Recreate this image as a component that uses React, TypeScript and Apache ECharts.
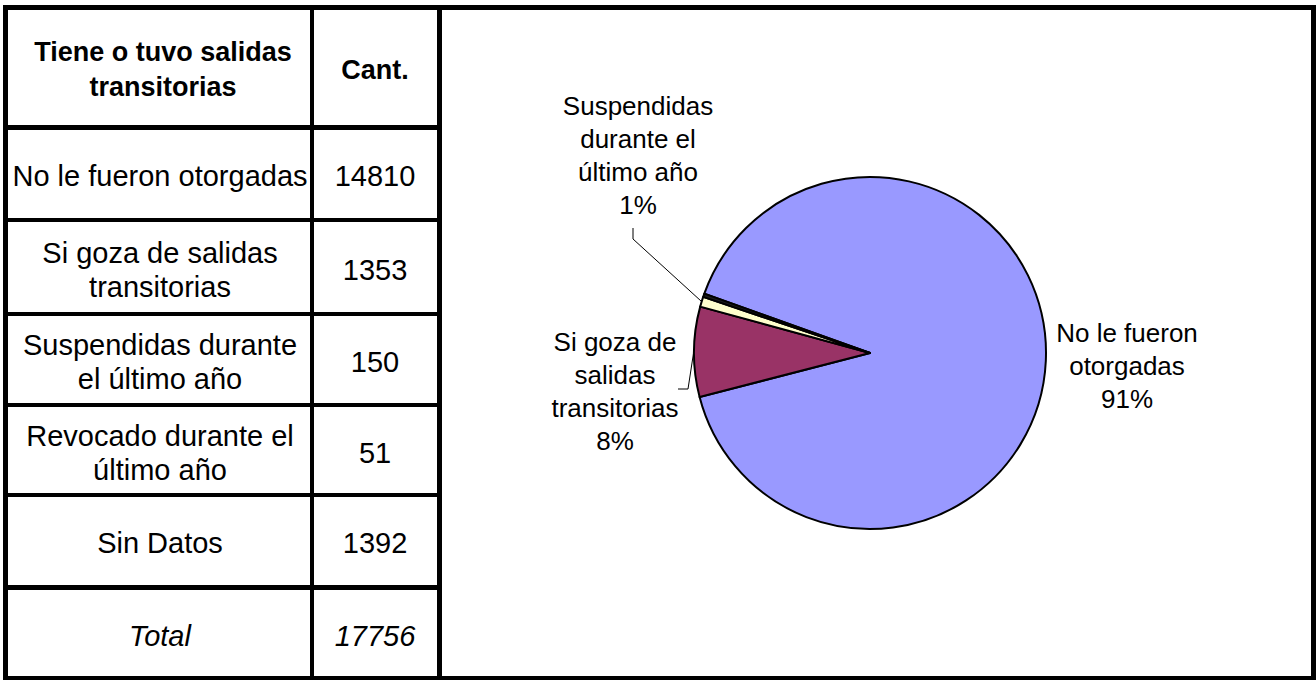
import React, { useEffect, useRef } from "react";
import * as echarts from "echarts";

// ---- data ----
const categories = [
  "No le fueron otorgadas",
  "Si goza de salidas transitorias",
  "Suspendidas durante el último año",
  "Revocado durante el último año",
  "Sin Datos",
];
const counts = [14810, 1353, 150, 51, 1392];
const tableLabels = [
  "No le fueron otorgadas",
  "Si goza de salidas\ntransitorias",
  "Suspendidas durante\nel último año",
  "Revocado durante el\núltimo año",
  "Sin Datos",
];
const headerLabels = ["Tiene o tuvo salidas\ntransitorias", "Cant."];
const totalLabel = "Total";
const pieLabels = [
  "No le fueron\notorgadas",
  "Si goza de\nsalidas\ntransitorias",
  "Suspendidas\ndurante el\núltimo año",
  "Revocado\ndurante el\núltimo año",
];
const pieCount = 4; // the pie leaves out "Sin Datos"
const sliceColors = ["#9999FF", "#993366", "#FFFFCC", "#1a1a1a"];

// ---- layout (positions only) ----
const FONT = '"Liberation Sans", Arial, sans-serif';
const col1X = 160;
const col2X = 375;
const headerY = 69;
const rowY = [176, 270, 362, 453, 543];
const totalY = 636;

export default function App() {
  const ref = useRef<HTMLDivElement>(null);

  useEffect(() => {
    if (!ref.current) return;
    const chart = echarts.init(ref.current, undefined, { renderer: "svg" });

    const total = counts.reduce((a, b) => a + b, 0);

    const rect = (x: number, y: number, w: number, h: number) => ({
      type: "rect",
      shape: { x, y, width: w, height: h },
      style: { fill: "#000" },
      silent: true,
    });
    const text = (
      t: string,
      x: number,
      y: number,
      opts: { bold?: boolean; italic?: boolean; size?: number; lh?: number } = {}
    ) => ({
      type: "text",
      x,
      y,
      silent: true,
      style: {
        text: t,
        fill: "#000",
        fontFamily: FONT,
        fontSize: opts.size ?? 29,
        fontWeight: opts.bold ? "bold" : "normal",
        fontStyle: opts.italic ? "italic" : "normal",
        lineHeight: opts.lh ?? 34,
        align: "center",
        verticalAlign: "middle",
        textAlign: "center",
        textVerticalAlign: "middle",
      },
    });

    const graphics: any[] = [
      // frame
      rect(3, 5, 1313, 5),
      rect(3, 676, 1313, 4),
      rect(3, 5, 5, 675),
      rect(1311, 5, 5, 675),
      // table verticals
      rect(310, 5, 4, 675),
      rect(437, 5, 5, 675),
      // table horizontals
      rect(3, 125, 439, 5),
      rect(3, 218, 439, 4),
      rect(3, 312, 439, 4),
      rect(3, 403, 439, 4),
      rect(3, 493, 439, 4),
      rect(3, 585, 439, 5),
      // header
      text(headerLabels[0], col1X + 3, headerY, { bold: true, size: 27, lh: 35 }),
      text(headerLabels[1], col2X, 70, { bold: true, size: 27 }),
    ];
    tableLabels.forEach((lab, i) => {
      graphics.push(text(lab, col1X, rowY[i]));
      graphics.push(text(String(counts[i]), col2X, rowY[i]));
    });
    graphics.push(text(totalLabel, col1X, totalY, { italic: true }));
    graphics.push(text(String(total), col2X, totalY, { italic: true }));

    const labelPos: Record<number, { x: number; y: number; line?: number[][] }> = {
      0: { x: 1127, y: 366 },
      1: { x: 615, y: 391, line: [[694, 350], [688, 389], [678, 389]] },
      2: { x: 638, y: 155, line: [[701, 301], [633, 239], [633, 228]] },
    };

    const pieData = categories.slice(0, pieCount).map((name, i) => ({
      name,
      value: counts[i],
      itemStyle: { color: sliceColors[i] },
      label: { show: i < 3, formatter: pieLabels[i] + "\n{d}%" },
      labelLine: { show: i === 1 || i === 2 },
    }));

    chart.setOption({
      animation: false,
      backgroundColor: "#fff",
      graphic: graphics,
      series: [
        {
          type: "pie",
          center: [870, 353],
          radius: 176,
          startAngle: 160.3,
          clockwise: true,
          percentPrecision: 0,
          avoidLabelOverlap: false,
          silent: true,
          emphasis: { disabled: true },
          itemStyle: { borderColor: "#000", borderWidth: 2 },
          label: {
            show: true,
            position: "outside",
            color: "#000",
            fontFamily: FONT,
            fontSize: 26,
            lineHeight: 33,
            align: "center",
          },
          labelLine: {
            show: true,
            lineStyle: { color: "#000", width: 1 },
          },
          labelLayout: (params: any) => {
            const p = labelPos[params.dataIndex];
            if (!p) return {};
            const r: any = { x: p.x, y: p.y, align: "center", verticalAlign: "middle", hideOverlap: false };
            if (p.line) r.labelLinePoints = p.line;
            return r;
          },
          data: pieData,
        },
      ],
    });

    return () => chart.dispose();
  }, []);

  return (
    <div
      ref={ref}
      style={{ position: "absolute", left: 0, top: 0, width: 1316, height: 680, background: "#fff" }}
    />
  );
}
